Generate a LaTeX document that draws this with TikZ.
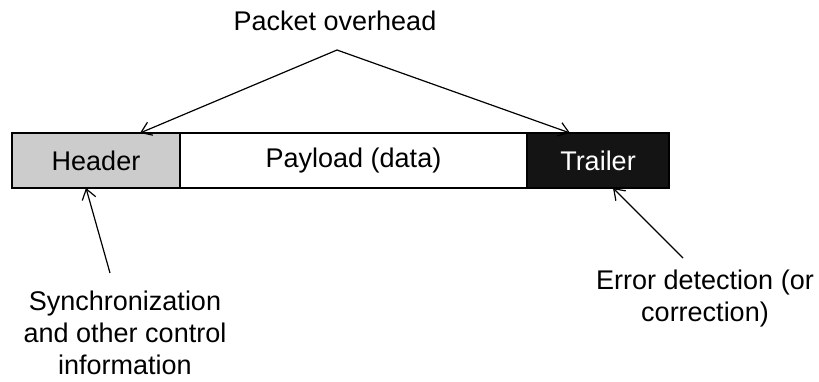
\documentclass[tikz,border=0pt]{standalone}
\usepackage{fontspec}
\setmainfont{Liberation Sans}
\usetikzlibrary{positioning,arrows.meta}

\begin{document}
\begin{tikzpicture}[x=1pt, y=-1pt,
  field/.style={draw=black, line width=2.4pt, minimum height=55pt, outer sep=0pt, inner sep=0pt, font=\fontsize{27}{32}\selectfont},
  lbl/.style={align=center, font=\fontsize{27}{32}\selectfont},
  pointer/.style={-{Straight Barb[length=10pt,width=14pt]}, line width=1.2pt}]
\useasboundingbox (0,0) rectangle (819,381);
\node[field, fill=gray!40, minimum width=168pt] (header) at (96,160.5) {Header};
\node[field, fill=white, minimum width=347pt, right=0pt of header] (payload) {Payload (data)};
\node[field, fill=black!92, text=white, minimum width=142pt, right=0pt of payload] (trailer) {Trailer};
\node[lbl] (overhead) at (335,21) {Packet overhead};
\node[lbl] (sync) at (125,333) {Synchronization\\and other control\\information};
\node[lbl] (error) at (705,299) {Error detection (or\\correction)};
\coordinate (apex) at (337,50);
\coordinate (synctail) at (110,273);
\coordinate (errortail) at (683,258);
\draw[pointer] (apex) -- ([xshift=44pt]header.north);
\draw[pointer] (apex) -- ([xshift=-28pt]trailer.north);
\draw[pointer] (synctail) -- ([xshift=-10pt]header.south);
\draw[pointer] (errortail) -- ([xshift=15pt]trailer.south);
\end{tikzpicture}
\end{document}
